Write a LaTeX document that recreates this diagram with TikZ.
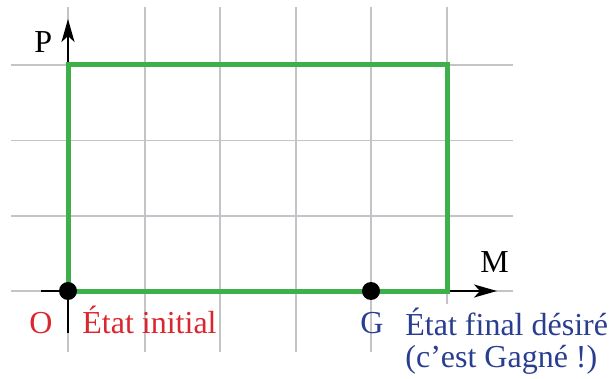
\documentclass[tikz,border=0pt]{standalone}
\usepackage{fontspec}
\setmainfont{Liberation Serif}
\usetikzlibrary{arrows.meta}
\definecolor{gridc}{RGB}{196,196,200}
\definecolor{grn}{RGB}{61,176,73}
\definecolor{redc}{RGB}{218,38,46}
\definecolor{bluec}{RGB}{42,62,145}
\begin{document}
\begin{tikzpicture}[x=0.5pt,y=-0.5pt,
  gridline/.style={draw=gridc,line width=0.75pt},
  axisline/.style={draw=black,line width=1pt,-{Stealth[length=11.5pt,width=6.5pt,inset=3pt]}},
  tickline/.style={draw=black,line width=1pt},
  greenline/.style={draw=grn,line width=2.5pt},
  dot/.style={circle,fill=black,minimum size=9pt,inner sep=0pt},
  lbl/.style={inner sep=0pt,font=\fontsize{16}{16}\selectfont}]
\useasboundingbox (0,0) rectangle (615,379);
% grid
\foreach \x in {68,145,220,296,371,447}
  \draw[gridline] (\x,7) -- (\x,352);
\foreach \y in {65,140.5,216,291}
  \draw[gridline] (11,\y) -- (513,\y);
% axes
\coordinate (xs) at (41,291);
\coordinate (xe) at (497,291);
\coordinate (ys) at (68,333);
\coordinate (yo) at (68,291);
\coordinate (ye) at (68,19);
\draw[axisline] (xs) -- (xe);
\draw[axisline] (yo) -- (ye);
\draw[tickline] (yo) -- (ys);
% green rectangle
\draw[greenline] (68,65) rectangle (447,291);
% dots
\node[dot] (O) at (68,291) {};
\node[dot] (G) at (371,291) {};
% labels
\node[lbl,anchor=base west] (Plbl) at (34,53) {P};
\node[lbl,anchor=base west] (Mlbl) at (480,272) {M};
\node[lbl,anchor=base west,text=redc] (Olbl) at (29,333) {O};
\node[lbl,anchor=base west,text=redc] (init) at (82,333) {État initial};
\node[lbl,anchor=base west,text=bluec] (Glbl) at (360,333) {G};
\node[lbl,anchor=north west,text=bluec,fill=white,align=left,inner ysep=2pt] (fin) at (405,304)
  {État final désiré\\(c’est Gagné !)};
\end{tikzpicture}
\end{document}
